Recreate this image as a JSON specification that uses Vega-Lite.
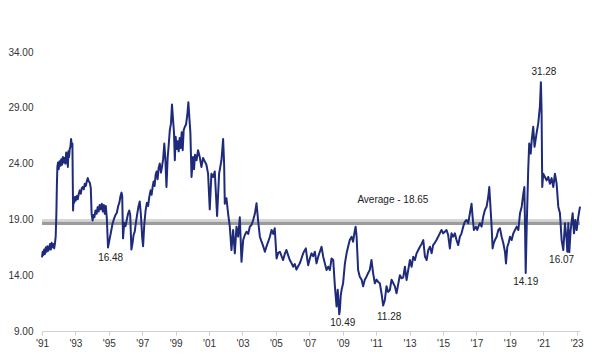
{
  "$schema": "https://vega.github.io/schema/vega-lite/v6.json",
  "width": 538,
  "height": 279,
  "autosize": "none",
  "padding": {"left": 42, "top": 52, "right": 12, "bottom": 26},
  "background": "white",
  "config": {
    "view": {"stroke": null},
    "font": "Liberation Sans",
    "axis": {"labelOverlap": false}
  },
  "datasets": {
    "pe": [
      {"t":1991.00,"v":15.6},{"t":1991.04,"v":16.1},{"t":1991.08,"v":15.8},{"t":1991.13,"v":16.3},{"t":1991.18,"v":15.9},
      {"t":1991.23,"v":16.5},{"t":1991.28,"v":16.1},{"t":1991.33,"v":16.6},{"t":1991.38,"v":16.2},{"t":1991.43,"v":16.4},
      {"t":1991.48,"v":16.8},{"t":1991.53,"v":16.3},{"t":1991.58,"v":16.9},{"t":1991.63,"v":16.5},{"t":1991.68,"v":16.8},
      {"t":1991.73,"v":16.4},{"t":1991.78,"v":16.9},{"t":1991.82,"v":17.5},{"t":1991.86,"v":19.5},{"t":1991.89,"v":22.0},
      {"t":1991.92,"v":23.7},{"t":1991.96,"v":24.1},{"t":1992.00,"v":23.5},{"t":1992.05,"v":24.2},{"t":1992.10,"v":23.8},
      {"t":1992.15,"v":24.4},{"t":1992.20,"v":23.9},{"t":1992.25,"v":24.6},{"t":1992.30,"v":24.1},{"t":1992.35,"v":24.5},
      {"t":1992.40,"v":24.0},{"t":1992.45,"v":25.0},{"t":1992.50,"v":24.5},{"t":1992.55,"v":23.7},{"t":1992.58,"v":25.1},
      {"t":1992.62,"v":24.6},{"t":1992.66,"v":25.3},{"t":1992.70,"v":25.5},{"t":1992.74,"v":26.2},{"t":1992.78,"v":25.7},
      {"t":1992.82,"v":25.8},{"t":1992.86,"v":19.8},{"t":1992.89,"v":20.9},{"t":1992.93,"v":20.5},{"t":1992.97,"v":21.0},
      {"t":1993.02,"v":20.7},{"t":1993.08,"v":21.1},{"t":1993.14,"v":20.8},{"t":1993.20,"v":21.3},{"t":1993.26,"v":21.6},
      {"t":1993.32,"v":21.3},{"t":1993.38,"v":21.8},{"t":1993.44,"v":21.9},{"t":1993.50,"v":21.7},{"t":1993.56,"v":22.2},
      {"t":1993.62,"v":22.0},{"t":1993.68,"v":22.4},{"t":1993.74,"v":22.7},{"t":1993.80,"v":22.4},{"t":1993.86,"v":22.3},
      {"t":1993.92,"v":21.8},{"t":1993.97,"v":19.5},{"t":1994.03,"v":18.9},{"t":1994.08,"v":19.4},{"t":1994.14,"v":19.2},
      {"t":1994.20,"v":19.8},{"t":1994.27,"v":19.5},{"t":1994.33,"v":20.1},{"t":1994.39,"v":19.7},{"t":1994.45,"v":20.3},
      {"t":1994.52,"v":19.9},{"t":1994.58,"v":20.4},{"t":1994.64,"v":19.7},{"t":1994.70,"v":20.3},{"t":1994.76,"v":19.5},
      {"t":1994.82,"v":20.2},{"t":1994.88,"v":19.1},{"t":1994.95,"v":16.48},{"t":1995.03,"v":17.1},{"t":1995.12,"v":17.8},
      {"t":1995.22,"v":18.6},{"t":1995.32,"v":19.1},{"t":1995.40,"v":19.4},{"t":1995.48,"v":19.6},{"t":1995.56,"v":20.2},
      {"t":1995.63,"v":20.5},{"t":1995.70,"v":21.1},{"t":1995.76,"v":21.4},{"t":1995.80,"v":21.1},{"t":1995.85,"v":17.3},
      {"t":1995.92,"v":18.7},{"t":1996.00,"v":18.4},{"t":1996.08,"v":19.0},{"t":1996.15,"v":19.5},{"t":1996.22,"v":19.8},
      {"t":1996.28,"v":19.4},{"t":1996.35,"v":16.3},{"t":1996.42,"v":16.9},{"t":1996.48,"v":17.6},{"t":1996.55,"v":17.9},
      {"t":1996.62,"v":18.7},{"t":1996.70,"v":19.5},{"t":1996.78,"v":20.2},{"t":1996.85,"v":20.6},{"t":1996.92,"v":19.4},
      {"t":1997.00,"v":17.3},{"t":1997.05,"v":16.6},{"t":1997.12,"v":18.5},{"t":1997.20,"v":19.8},{"t":1997.28,"v":20.5},
      {"t":1997.35,"v":20.2},{"t":1997.42,"v":21.0},{"t":1997.50,"v":21.6},{"t":1997.56,"v":21.2},{"t":1997.62,"v":21.9},
      {"t":1997.68,"v":22.4},{"t":1997.74,"v":22.0},{"t":1997.80,"v":23.0},{"t":1997.86,"v":23.3},{"t":1997.92,"v":22.6},
      {"t":1997.98,"v":23.6},{"t":1998.05,"v":24.0},{"t":1998.12,"v":23.2},{"t":1998.18,"v":23.7},{"t":1998.25,"v":24.4},
      {"t":1998.32,"v":25.8},{"t":1998.38,"v":24.5},{"t":1998.45,"v":21.9},{"t":1998.52,"v":24.5},{"t":1998.58,"v":25.6},
      {"t":1998.65,"v":27.0},{"t":1998.72,"v":27.6},{"t":1998.78,"v":29.3},{"t":1998.84,"v":28.0},{"t":1998.90,"v":26.8},
      {"t":1998.95,"v":24.3},{"t":1999.00,"v":26.4},{"t":1999.06,"v":25.3},{"t":1999.12,"v":26.0},{"t":1999.18,"v":25.1},
      {"t":1999.24,"v":26.3},{"t":1999.30,"v":25.4},{"t":1999.36,"v":26.8},{"t":1999.42,"v":25.2},{"t":1999.48,"v":27.0},
      {"t":1999.55,"v":27.3},{"t":1999.62,"v":27.5},{"t":1999.70,"v":28.4},{"t":1999.76,"v":29.5},{"t":1999.82,"v":28.1},
      {"t":1999.88,"v":26.8},{"t":1999.95,"v":22.8},{"t":2000.04,"v":24.6},{"t":2000.10,"v":23.5},{"t":2000.16,"v":24.8},
      {"t":2000.25,"v":24.3},{"t":2000.34,"v":25.2},{"t":2000.44,"v":24.6},{"t":2000.54,"v":23.7},{"t":2000.64,"v":24.5},
      {"t":2000.74,"v":24.2},{"t":2000.84,"v":23.9},{"t":2000.94,"v":23.1},{"t":2001.04,"v":19.9},{"t":2001.14,"v":23.1},
      {"t":2001.24,"v":22.8},{"t":2001.34,"v":23.3},{"t":2001.48,"v":19.3},{"t":2001.60,"v":23.1},{"t":2001.74,"v":24.3},
      {"t":2001.84,"v":26.2},{"t":2001.90,"v":24.0},{"t":2001.94,"v":20.4},{"t":2002.04,"v":20.9},{"t":2002.14,"v":19.5},
      {"t":2002.24,"v":18.35},{"t":2002.34,"v":16.25},{"t":2002.44,"v":18.05},{"t":2002.54,"v":15.96},{"t":2002.64,"v":18.35},
      {"t":2002.74,"v":17.45},{"t":2002.84,"v":19.2},{"t":2002.94,"v":15.2},{"t":2003.04,"v":17.15},{"t":2003.14,"v":17.6},
      {"t":2003.24,"v":17.9},{"t":2003.34,"v":17.7},{"t":2003.44,"v":18.35},{"t":2003.54,"v":18.5},{"t":2003.64,"v":18.95},
      {"t":2003.74,"v":19.5},{"t":2003.84,"v":20.45},{"t":2003.94,"v":18.8},{"t":2004.04,"v":17.45},{"t":2004.14,"v":17.0},
      {"t":2004.24,"v":16.6},{"t":2004.34,"v":16.1},{"t":2004.44,"v":16.6},{"t":2004.54,"v":17.0},{"t":2004.64,"v":17.45},
      {"t":2004.74,"v":18.05},{"t":2004.84,"v":17.7},{"t":2004.93,"v":18.2},{"t":2005.04,"v":15.5},{"t":2005.14,"v":16.0},
      {"t":2005.24,"v":16.1},{"t":2005.34,"v":15.7},{"t":2005.43,"v":15.36},{"t":2005.53,"v":15.9},{"t":2005.63,"v":16.26},
      {"t":2005.73,"v":15.8},{"t":2005.83,"v":15.36},{"t":2005.93,"v":15.1},{"t":2006.03,"v":14.76},{"t":2006.13,"v":15.0},
      {"t":2006.23,"v":14.5},{"t":2006.33,"v":14.8},{"t":2006.43,"v":15.06},{"t":2006.53,"v":15.5},{"t":2006.63,"v":15.96},
      {"t":2006.71,"v":16.2},{"t":2006.79,"v":16.4},{"t":2006.86,"v":15.6},{"t":2006.93,"v":14.9},{"t":2007.03,"v":15.5},
      {"t":2007.13,"v":15.96},{"t":2007.23,"v":15.7},{"t":2007.33,"v":16.1},{"t":2007.43,"v":15.06},{"t":2007.53,"v":15.66},
      {"t":2007.63,"v":16.1},{"t":2007.73,"v":16.55},{"t":2007.83,"v":15.66},{"t":2007.93,"v":15.06},{"t":2008.03,"v":14.47},
      {"t":2008.13,"v":14.76},{"t":2008.23,"v":14.47},{"t":2008.33,"v":15.5},{"t":2008.43,"v":15.36},{"t":2008.53,"v":13.0},
      {"t":2008.63,"v":11.2},{"t":2008.70,"v":12.7},{"t":2008.75,"v":11.5},{"t":2008.79,"v":10.49},{"t":2008.83,"v":10.9},
      {"t":2008.88,"v":12.2},{"t":2008.93,"v":12.67},{"t":2009.02,"v":13.27},{"t":2009.13,"v":15.06},{"t":2009.23,"v":15.96},
      {"t":2009.32,"v":16.55},{"t":2009.42,"v":17.15},{"t":2009.53,"v":17.45},{"t":2009.62,"v":17.0},{"t":2009.70,"v":17.8},
      {"t":2009.77,"v":18.35},{"t":2009.83,"v":17.45},{"t":2009.92,"v":14.47},{"t":2010.02,"v":13.87},{"t":2010.13,"v":13.6},
      {"t":2010.22,"v":13.0},{"t":2010.32,"v":13.6},{"t":2010.42,"v":13.87},{"t":2010.52,"v":14.2},{"t":2010.62,"v":14.47},
      {"t":2010.72,"v":15.36},{"t":2010.82,"v":14.17},{"t":2010.92,"v":13.27},{"t":2011.02,"v":13.6},{"t":2011.12,"v":13.4},
      {"t":2011.22,"v":13.27},{"t":2011.32,"v":12.38},{"t":2011.42,"v":11.28},{"t":2011.52,"v":11.78},{"t":2011.62,"v":13.0},
      {"t":2011.72,"v":12.5},{"t":2011.82,"v":12.67},{"t":2011.92,"v":13.6},{"t":2012.02,"v":13.3},{"t":2012.12,"v":13.0},
      {"t":2012.22,"v":12.38},{"t":2012.32,"v":13.2},{"t":2012.42,"v":14.0},{"t":2012.52,"v":13.72},{"t":2012.62,"v":13.8},
      {"t":2012.72,"v":14.76},{"t":2012.82,"v":13.57},{"t":2012.92,"v":14.47},{"t":2013.02,"v":15.36},{"t":2013.12,"v":14.76},
      {"t":2013.22,"v":15.66},{"t":2013.32,"v":15.36},{"t":2013.42,"v":15.96},{"t":2013.52,"v":16.26},{"t":2013.62,"v":16.55},
      {"t":2013.72,"v":16.8},{"t":2013.82,"v":17.15},{"t":2013.92,"v":15.66},{"t":2014.02,"v":15.36},{"t":2014.12,"v":16.26},
      {"t":2014.22,"v":16.55},{"t":2014.32,"v":15.96},{"t":2014.41,"v":16.7},{"t":2014.51,"v":16.9},{"t":2014.61,"v":17.15},
      {"t":2014.71,"v":17.45},{"t":2014.81,"v":17.75},{"t":2014.91,"v":18.05},{"t":2015.01,"v":17.75},{"t":2015.11,"v":17.9},
      {"t":2015.21,"v":18.05},{"t":2015.31,"v":17.6},{"t":2015.41,"v":16.4},{"t":2015.51,"v":17.75},{"t":2015.61,"v":17.45},
      {"t":2015.71,"v":17.75},{"t":2015.81,"v":17.15},{"t":2015.91,"v":16.7},{"t":2016.01,"v":17.45},{"t":2016.11,"v":17.75},
      {"t":2016.21,"v":18.35},{"t":2016.31,"v":18.8},{"t":2016.41,"v":18.95},{"t":2016.51,"v":18.65},{"t":2016.61,"v":19.55},
      {"t":2016.71,"v":20.4},{"t":2016.77,"v":19.25},{"t":2016.85,"v":18.05},{"t":2016.97,"v":18.35},{"t":2017.05,"v":18.05},
      {"t":2017.13,"v":18.4},{"t":2017.21,"v":18.65},{"t":2017.31,"v":18.35},{"t":2017.41,"v":19.25},{"t":2017.51,"v":19.85},
      {"t":2017.61,"v":20.14},{"t":2017.71,"v":21.03},{"t":2017.77,"v":21.9},{"t":2017.83,"v":20.4},{"t":2017.90,"v":18.65},
      {"t":2017.97,"v":16.4},{"t":2018.04,"v":16.9},{"t":2018.11,"v":17.15},{"t":2018.21,"v":17.45},{"t":2018.31,"v":18.05},
      {"t":2018.41,"v":18.2},{"t":2018.51,"v":17.45},{"t":2018.61,"v":16.86},{"t":2018.71,"v":16.1},{"t":2018.77,"v":15.05},
      {"t":2018.85,"v":16.55},{"t":2018.93,"v":16.9},{"t":2019.01,"v":17.45},{"t":2019.11,"v":17.15},{"t":2019.21,"v":17.75},
      {"t":2019.31,"v":18.05},{"t":2019.41,"v":18.35},{"t":2019.51,"v":18.05},{"t":2019.61,"v":19.55},{"t":2019.71,"v":20.14},
      {"t":2019.81,"v":21.33},{"t":2019.87,"v":21.9},{"t":2019.91,"v":18.35},{"t":2019.95,"v":14.19},{"t":2020.01,"v":18.35},
      {"t":2020.10,"v":23.43},{"t":2020.16,"v":25.8},{"t":2020.25,"v":24.9},{"t":2020.31,"v":26.1},{"t":2020.40,"v":27.3},
      {"t":2020.48,"v":25.5},{"t":2020.60,"v":26.7},{"t":2020.70,"v":27.6},{"t":2020.80,"v":29.1},{"t":2020.86,"v":31.28},
      {"t":2020.90,"v":28.8},{"t":2020.94,"v":21.9},{"t":2021.00,"v":23.1},{"t":2021.10,"v":22.8},{"t":2021.20,"v":22.5},
      {"t":2021.30,"v":22.8},{"t":2021.40,"v":22.2},{"t":2021.50,"v":22.7},{"t":2021.60,"v":21.9},{"t":2021.70,"v":23.1},
      {"t":2021.80,"v":22.2},{"t":2021.90,"v":20.14},{"t":2022.00,"v":19.55},{"t":2022.10,"v":17.15},{"t":2022.20,"v":16.26},
      {"t":2022.30,"v":18.65},{"t":2022.40,"v":17.15},{"t":2022.44,"v":16.1},{"t":2022.50,"v":18.65},{"t":2022.56,"v":16.07},
      {"t":2022.64,"v":18.05},{"t":2022.76,"v":19.55},{"t":2022.84,"v":17.75},{"t":2022.92,"v":18.95},{"t":2023.00,"v":18.05},
      {"t":2023.10,"v":19.25},{"t":2023.20,"v":20.14}
    ],
    "avg": [{"v": 18.65, "band": 18.95}],
    "labels": [
      {"t":1995.11,"v":15.54,"label":"16.48"},
      {"t":2009.0,"v":9.74,"label":"10.49"},
      {"t":2011.78,"v":10.23,"label":"11.28"},
      {"t":2019.95,"v":13.36,"label":"14.19"},
      {"t":2022.1,"v":15.36,"label":"16.07"},
      {"t":2021.04,"v":32.18,"label":"31.28"},
      {"t":2012.0,"v":20.74,"label":"Average - 18.65"}
    ]
  },
  "layer": [
    {
      "data": {"name": "avg"},
      "mark": {"type": "rule", "color": "#d6d6d6", "strokeWidth": 2},
      "encoding": {
        "y": {"field": "band", "type": "quantitative", "title": null, "scale": {"domain": [9, 34], "nice": false, "zero": false},
          "axis": {
            "values": [9, 14, 19, 24, 29, 34], "format": ".2f", "domain": false, "ticks": false, "tickSize": 0,
            "grid": false, "labelPadding": 9, "labelFontSize": 10, "labelColor": "#333333"
          }}
      }
    },
    {
      "data": {"name": "avg"},
      "mark": {"type": "rule", "color": "#9b9b9b", "strokeWidth": 3.5},
      "encoding": {
        "y": {"field": "v", "type": "quantitative", "title": null,
          "axis": {
            "values": [9, 14, 19, 24, 29, 34], "format": ".2f", "domain": false, "ticks": false, "tickSize": 0,
            "grid": false, "labelPadding": 9, "labelFontSize": 10, "labelColor": "#333333"
          }}
      }
    },
    {
      "data": {"name": "pe"},
      "mark": {"type": "line", "color": "#1e2b7b", "strokeWidth": 2, "strokeJoin": "round"},
      "encoding": {
        "x": {
          "field": "t", "type": "quantitative", "title": null,
          "scale": {"domain": [1991, 2023.2], "nice": false, "zero": false},
          "axis": {
            "values": [1991,1993,1995,1997,1999,2001,2003,2005,2007,2009,2011,2013,2015,2017,2019,2021,2023],
            "labelExpr": "\"'\" + substring(toString(datum.value), 2, 4)",
            "grid": false, "domainColor": "#d0d0d0", "tickColor": "#d0d0d0", "tickSize": 4,
            "labelPadding": 3, "labelFontSize": 10, "labelColor": "#333333", "labelFlush": false,
            "labelOverlap": false, "labelSeparation": 0, "labelBound": false
          }
        },
        "y": {
          "field": "v", "type": "quantitative", "title": null,
          "scale": {"domain": [9, 34], "nice": false, "zero": false},
          "axis": {
            "values": [9, 14, 19, 24, 29, 34], "format": ".2f", "domain": false, "ticks": false, "tickSize": 0,
            "grid": false, "labelPadding": 9, "labelFontSize": 10, "labelColor": "#333333"
          }
        }
      }
    },
    {
      "data": {"name": "labels"},
      "mark": {"type": "text", "fontSize": 10, "color": "#222222", "align": "center", "baseline": "middle"},
      "encoding": {
        "x": {"field": "t", "type": "quantitative", "title": null,
          "axis": {
            "values": [1991,1993,1995,1997,1999,2001,2003,2005,2007,2009,2011,2013,2015,2017,2019,2021,2023],
            "labelExpr": "\"'\" + substring(toString(datum.value), 2, 4)",
            "grid": false, "domainColor": "#d0d0d0", "tickColor": "#d0d0d0", "tickSize": 4,
            "labelPadding": 3, "labelFontSize": 10, "labelColor": "#333333", "labelFlush": false,
            "labelOverlap": false, "labelSeparation": 0, "labelBound": false
          }},
        "y": {"field": "v", "type": "quantitative", "title": null,
          "axis": {
            "values": [9, 14, 19, 24, 29, 34], "format": ".2f", "domain": false, "ticks": false, "tickSize": 0,
            "grid": false, "labelPadding": 9, "labelFontSize": 10, "labelColor": "#333333"
          }},
        "text": {"field": "label"}
      }
    }
  ]
}
